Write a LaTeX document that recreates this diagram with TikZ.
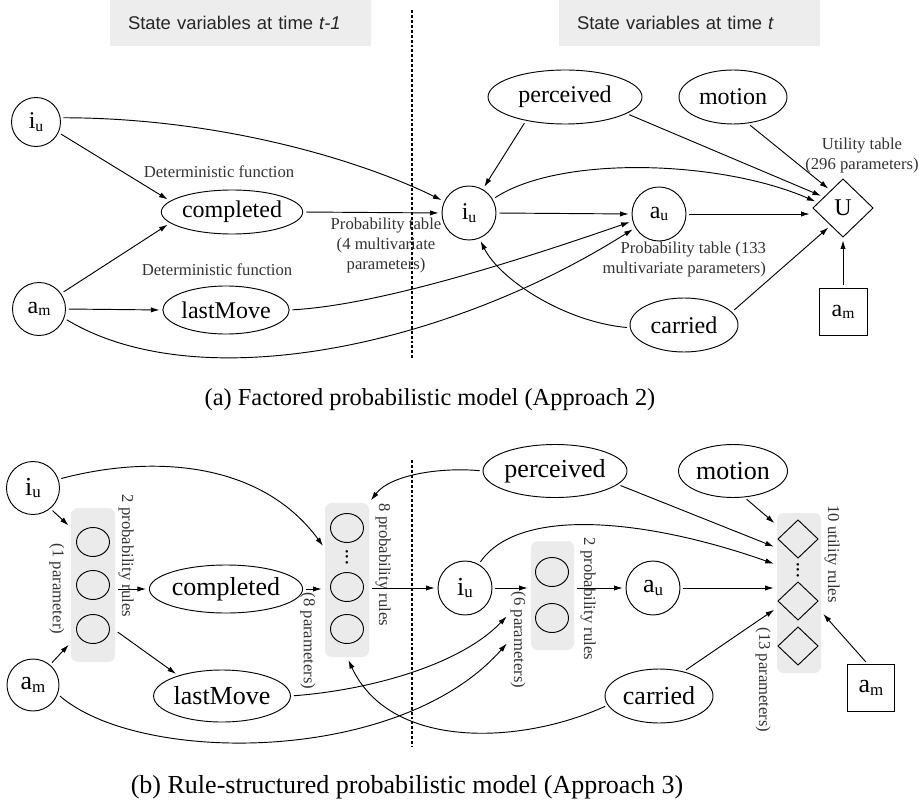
\documentclass[tikz,border=0pt]{standalone}
\usepackage{fontspec}
\setmainfont{Liberation Serif}
\newfontfamily\hdrfont{Liberation Sans}
\usetikzlibrary{shapes.geometric, arrows.meta}
\newcommand{\sbs}[1]{\raisebox{-0.1em}{\scalebox{0.65}{#1}}}
\begin{document}
\begin{tikzpicture}[x=0.75pt, y=-0.75pt,
  every node/.style={inner sep=0pt, outer sep=0pt},
  thinl/.style={line width=0.7pt},
  arr/.style={thinl, -{Latex[length=6.5pt,width=4pt]}, shorten >=2.5pt, shorten <=2.5pt},
  bigt/.style={font=\fontsize{18}{20}\selectfont},
  bigb/.style={font=\fontsize{19.5}{22}\selectfont},
  ell/.style={ellipse, draw, thinl},
  circ/.style={circle, draw, thinl},
  lbl/.style={font=\fontsize{12.5}{15}\selectfont, text=black!80, align=center},
  rlbl/.style={font=\fontsize{12.5}{15}\selectfont, text=black!80, rotate=-90},
  rulebox/.style={fill=black!8, rounded corners=5pt},
  minic/.style={ellipse, draw, thinl, minimum width=24.75pt, minimum height=21.75pt},
  minid/.style={diamond, draw, thinl, minimum width=30pt, minimum height=28.5pt},
  hdr/.style={fill=black!7, anchor=north west, font=\hdrfont\fontsize{13.8}{16}\selectfont, text=black!85, align=left, inner xsep=13.5pt, minimum height=34.5pt, text width=168.75pt},
  dline/.style={line width=0.9pt, dash pattern=on 2.2pt off 1.5pt},
  captext/.style={anchor=base, font=\fontsize{18.3}{22}\selectfont},
  captextb/.style={anchor=base, font=\fontsize{19.5}{23}\selectfont}
]
\useasboundingbox (0,0) rectangle (919,805);

% headers
\node[hdr] (h1) at (110,0) {State variables at time \textit{t-1}};
\node[hdr] (h2) at (559,0) {State variables at time \textit{t}};

% dashed separators
\coordinate (d1a) at (412,10); \coordinate (d1b) at (412,360);
\coordinate (d2a) at (412,460); \coordinate (d2b) at (412,747);
\draw[dline] (d1a) -- (d1b);
\draw[dline] (d2a) -- (d2b);

% ---------------- top (a)
\node[circ, bigt, minimum size=36.75pt] (iuA) at (36,122) {i\sbs{u}};
\node[circ, bigt, minimum size=39.75pt] (amA) at (39,309) {a\sbs{m}};
\node[ell, bigt, minimum width=103.5pt, minimum height=33pt] (compA) at (232,212) {completed};
\node[ell, bigt, minimum width=91.5pt, minimum height=36pt] (lmA) at (226,310) {lastMove};
\node[circ, bigt, minimum size=40.5pt] (iuB) at (469,213) {i\sbs{u}};
\node[circ, bigt, minimum size=40.5pt] (auA) at (659,214) {a\sbs{u}};
\node[diamond, draw, thinl, bigt, minimum width=45pt, minimum height=43.5pt] (U) at (843,208) {U};
\node[draw, thinl, bigt, minimum width=36pt, minimum height=35.25pt] (amBoxA) at (843,312) {a\sbs{m}};
\node[ell, bigt, minimum width=115.5pt, minimum height=40.5pt] (percA) at (565,97) {perceived};
\node[ell, bigt, minimum width=81pt, minimum height=40.5pt] (motA) at (733,97) {motion};
\node[ell, bigt, minimum width=81pt, minimum height=40.5pt] (carA) at (684,325) {carried};

\node[lbl] (detA) at (219,172) {Deterministic function};
\node[lbl] (detB) at (217,270) {Deterministic function};
\node[lbl] (probA) at (386,245) {Probability table\\(4 multivariate\\parameters)};
\node[lbl, align=right, anchor=east] (probB) at (766,259) {Probability table (133\\multivariate parameters)};
\node[lbl] (utilA) at (862,155) {Utility table\\(296 parameters)};

\draw[arr] (iuA.10) .. controls (220,118) and (360,160) .. (iuB.155);
\draw[arr] (iuA.-25) -- (compA.170);
\draw[arr] (amA.35) -- (compA.190);
\draw[arr] (amA.east) -- (lmA.west);
\draw[arr] (amA.-20) .. controls (200,400) and (450,345) .. (auA.210);
\draw[arr] (lmA.east) .. controls (380,305) and (520,260) .. (auA.195);
\draw[arr] (compA.east) -- (iuB.west);
\draw[arr] (percA.211) -- (iuB.60);
\draw[arr] (percA.-15) -- (U.150);
\draw[arr] (motA.-61) -- (U.125);
\draw[arr] (iuB.30) .. controls (560,155) and (720,160) .. (U.168);
\draw[arr] (iuB.east) -- (auA.west);
\draw[arr] (auA.east) -- (auA.east -| U.west);
\draw[arr] (carA.15) -- (U.-125);
\draw[arr] (carA.183) .. controls (565,322) and (500,280) .. (iuB.-68);
\draw[arr] (amBoxA.north) -- (U.south);

\node[captext] (capA) at (430,405) {(a) Factored probabilistic model (Approach 2)};

% ---------------- bottom (b)
\node[rulebox, minimum width=33pt, minimum height=115.5pt] (rb1) at (93,585) {};
\node[rulebox, minimum width=33pt, minimum height=115.5pt] (rb2) at (347,580) {};
\node[rulebox, minimum width=32.25pt, minimum height=81.75pt] (rb3) at (552.5,595.5) {};
\node[rulebox, minimum width=33pt, minimum height=120pt] (rbU) at (799,593) {};

\node[minic] (r1a) at (93,542) {};
\node[minic] (r1b) at (93,585) {};
\node[minic] (r1c) at (93,629) {};
\node[minic] (r2a) at (347,528) {};
\node[rotate=90, font=\fontsize{16}{16}\selectfont] (r2d) at (347,557) {...};
\node[minic] (r2b) at (347,587) {};
\node[minic] (r2c) at (347,629) {};
\node[minic] (r3a) at (552,572) {};
\node[minic] (r3b) at (552,618) {};
\node[minid] (rUa) at (798,539) {};
\node[rotate=90, font=\fontsize{16}{16}\selectfont] (rUd) at (798,570) {...};
\node[minid] (rUb) at (798,601) {};
\node[minid] (rUc) at (798,646) {};

\node[circ, bigb, minimum size=39.75pt] (iuC) at (33,488) {i\sbs{u}};
\node[circ, bigb, minimum size=39pt] (amC) at (33,685) {a\sbs{m}};
\node[ell, bigb, minimum width=103.5pt, minimum height=36pt] (compC) at (226,589) {completed};
\node[ell, bigb, minimum width=91.5pt, minimum height=39pt] (lmC) at (222,696) {lastMove};
\node[circ, bigb, minimum size=40.5pt] (iuD) at (465,588) {i\sbs{u}};
\node[circ, bigb, minimum size=40.5pt] (auD) at (653,588) {a\sbs{u}};
\node[ell, bigb, minimum width=108pt, minimum height=39.75pt] (percC) at (555,471) {perceived};
\node[ell, bigb, minimum width=81.75pt, minimum height=39.75pt] (motC) at (733,471) {motion};
\node[ell, bigb, minimum width=81pt, minimum height=40.5pt] (carC) at (659,696) {carried};
\node[draw, thinl, bigb, minimum size=35.25pt] (amBoxC) at (871,688) {a\sbs{m}};

\node[rlbl] (l1) at (126,556) {2 probability rules};
\node[rlbl] (l2) at (57,589) {(1 parameter)};
\node[rlbl] (l3) at (383,565) {8 probability rules};
\node[rlbl] (l4) at (308,641) {(8 parameters)};
\node[rlbl] (l5) at (588,599) {2 probability rules};
\node[rlbl] (l6) at (518,640) {(6 parameters)};
\node[rlbl] (l7) at (832,554) {10 utility rules};
\node[rlbl] (l8) at (763,680) {(13 parameters)};

\coordinate (in3a) at (509,614);
\coordinate (in3b) at (509,641);

\draw[arr] (iuC.-50) -- (rb1.111);
\draw[arr] (amC.50) -- (rb1.-111);
\draw[arr] (rb1.east |- compC.west) -- (compC.west);
\draw[arr] (rb1.-64) -- (lmC.155);
\draw[arr] (iuC.19) .. controls (150,455) and (260,460) .. (rb2.125);
\draw[arr] (compC.east) -- (compC.east -| rb2.west);
\draw[arr] (rb2.east |- iuD.west) -- (iuD.west);
\draw[arr] (percC.west) .. controls (440,467) and (390,475) .. (rb2.north east);
\draw[arr] (iuD.east) -- (iuD.east -| rb3.west);
\draw[arr] (rb3.east |- auD.west) -- (auD.west);
\draw[arr] (lmC.east) .. controls (370,690) and (460,665) .. (in3a);
\draw[arr] (amC.-20) .. controls (140,765) and (400,765) .. (in3b);
\draw[arr] (carC.190) .. controls (520,745) and (390,750) .. (rb2.south);
\draw[arr] (iuD.60) .. controls (520,505) and (650,520) .. (rbU.128);
\draw[arr] (percC.-12) -- (rbU.116);
\draw[arr] (motC.-67) -- (rbU.108);
\draw[arr] (auD.east) -- (auD.east -| rbU.west);
\draw[arr] (carC.45) -- (rbU.214);
\draw[arr] (amBoxC.97) -- (rbU.-40);

\node[captextb] (capB) at (407,793) {(b) Rule-structured probabilistic model (Approach 3)};
\end{tikzpicture}
\end{document}
